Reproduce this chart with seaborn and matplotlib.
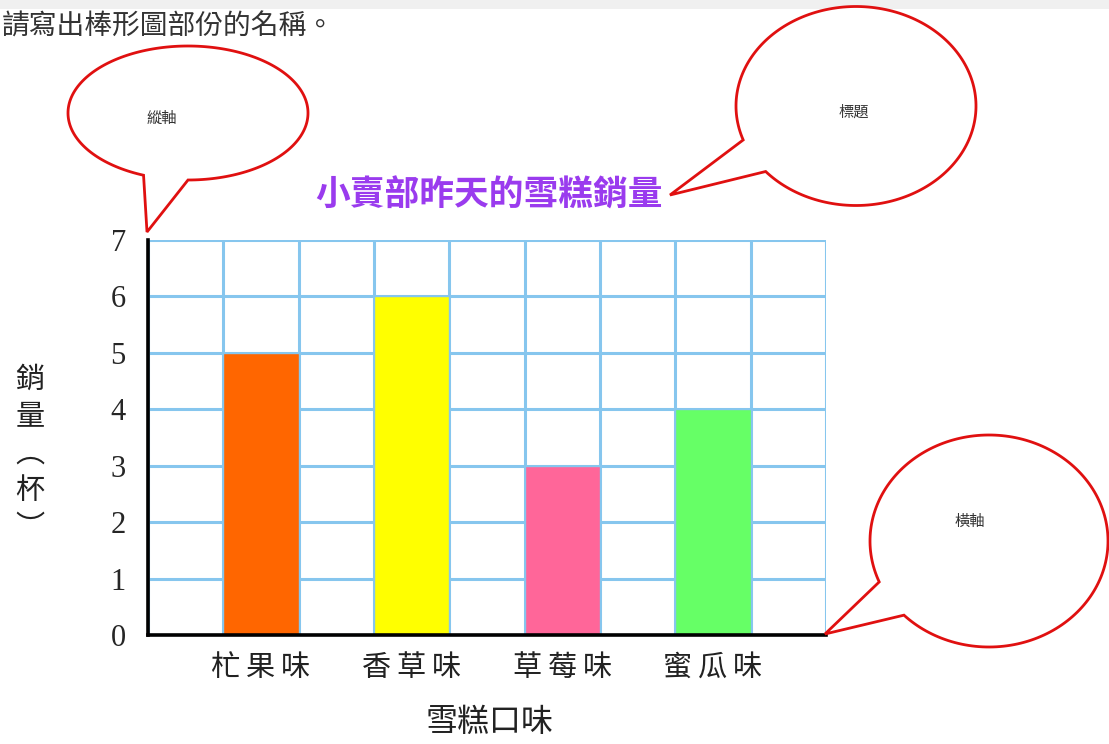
import numpy as np
import pandas as pd
import matplotlib
matplotlib.use("Agg")
import matplotlib.pyplot as plt
from matplotlib.patches import Polygon, Rectangle
import seaborn as sns

# ---- data ----
flavors = ["杧果味", "香草味", "草莓味", "蜜瓜味"]
sales = [5, 6, 3, 4]
slots = [1.5, 3.5, 5.5, 7.5]          # grid column centres of the bars
bar_colors = ["#FF6600", "#FFFF00", "#FF6699", "#66FF66"]
y_ticks = [0, 1, 2, 3, 4, 5, 6, 7]
title_text = "小賣部昨天的雪糕銷量"
x_label = "雪糕口味"
y_label = ["銷", "量", "︵", "杯", "︶"]
header = "請寫出棒形圖部份的名稱。"
bubble_texts = ["縱軸", "標題", "橫軸"]

sns.set_theme(style="white")
plt.rcParams["font.family"] = ["Noto Sans CJK TC", "DejaVu Sans"]

W, H = 1109, 744
fig = plt.figure(figsize=(W / 100, H / 100), dpi=100)
fig.patch.set_facecolor("white")

# main axes placed in pixel coordinates
L, R, T, B = 148, 826, 240, 635
ax = fig.add_axes([L / W, 1 - B / H, (R - L) / W, (B - T) / H])

df = pd.DataFrame({"pos": slots, "sales": sales, "flavor": flavors})
grid_c = "#86C6EE"
sns.barplot(data=df, x="pos", y="sales", hue="flavor", palette=bar_colors,
            native_scale=True, width=0.5, legend=False, ax=ax,
            edgecolor=grid_c, linewidth=1.0, zorder=3, saturation=1)

ax.set_xlim(0, 9)
ax.set_ylim(0, 7)
ax.set_xticks(np.arange(0, 10))
ax.set_yticks(y_ticks)
ax.grid(True, color=grid_c, linewidth=2.2, zorder=0)
ax.set_axisbelow(True)
ax.tick_params(axis="both", length=0)
ax.set_xticklabels([])
ax.set_yticklabels([str(v) for v in y_ticks],
                   fontfamily="Liberation Serif", fontsize=22)
ax.tick_params(axis="y", pad=16)
for s in ["top", "right"]:
    ax.spines[s].set_visible(False)
for s in ["left", "bottom"]:
    ax.spines[s].set_color("black")
    ax.spines[s].set_linewidth(2.6)
    ax.spines[s].set_zorder(5)
ax.set_xlabel("")
ax.set_ylabel("")
# category labels under the bars
for p, f in zip(slots, flavors):
    ax.text(p, -0.58, "\u2009".join(f), ha="center", va="center", fontsize=21,
            color="#222222", transform=ax.transData, clip_on=False,
            family=["Noto Sans CJK TC", "DejaVu Sans"])

# overlay axes in pixel coordinates for annotations
ov = fig.add_axes([0, 0, 1, 1], zorder=10)
ov.set_xlim(0, W)
ov.set_ylim(H, 0)
ov.axis("off")
ov.patch.set_alpha(0)

# header band
ov.add_patch(Rectangle((0, 0), W, 9, facecolor="#F0F0F0", edgecolor="none"))
ov.text(2, 27, header, fontsize=20, color="#333333", va="center", ha="left")

# title
ov.text(489, 195, title_text, fontsize=25, fontweight="bold",
        color="#9A3BEE", ha="center", va="center")
# x axis title
ov.text(490, 722, x_label, fontsize=23, color="#222222",
        ha="center", va="center")
# y axis title (vertical stack)
for i, ch in enumerate(y_label):
    ov.text(30, 380 + i * 37, ch, fontsize=21, color="#222222",
            ha="center", va="center")


def bubble(cx, cy, w, h, p1, tip, p2, text, tx, ty):
    a, b = w / 2, h / 2
    t1 = np.arctan2((p1[1] - cy) / b, (p1[0] - cx) / a)
    t2 = np.arctan2((p2[1] - cy) / b, (p2[0] - cx) / a)
    tt = np.arctan2((tip[1] - cy) / b, (tip[0] - cx) / a)
    d = (t1 - t2) % (2 * np.pi)
    dt = (tt - t2) % (2 * np.pi)
    if dt < d:
        ts = t2 - np.linspace(0, 2 * np.pi - d, 200)
    else:
        ts = t2 + np.linspace(0, d, 200)
    pts = [(cx + a * np.cos(t), cy + b * np.sin(t)) for t in ts]
    pts.append(tip)
    ov.add_patch(Polygon(pts, closed=True, facecolor="white",
                         edgecolor="#E01010", linewidth=2.0, zorder=11))
    ov.text(tx, ty, text, fontsize=11, color="#333333",
            ha="center", va="center", zorder=12)


bubble(188, 113, 240, 134, (143, 176), (147, 232), (188, 178),
       bubble_texts[0], 162, 118)
bubble(856, 106, 240, 199, (743, 140), (670, 195), (765, 172),
       bubble_texts[1], 854, 112)
bubble(989, 541, 238, 212, (879, 582), (825, 634), (903, 616),
       bubble_texts[2], 970, 521)

fig.savefig("out.png", dpi=100)
